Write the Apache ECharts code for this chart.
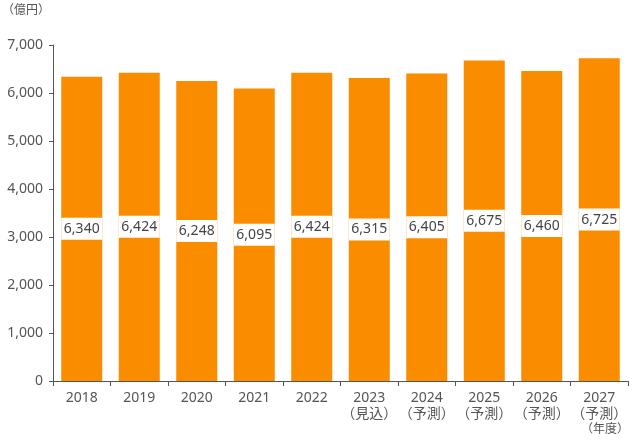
<!DOCTYPE html>
<html><head><meta charset="utf-8">
<script src="https://cdn.jsdelivr.net/npm/echarts@6/dist/echarts.min.js"></script>
<style>html,body{margin:0;padding:0;background:#fff}#c{width:633px;height:443px}</style>
</head><body><div id="c"></div>
<script>
const years = ['2018','2019','2020','2021','2022','2023','2024','2025','2026','2027'];
const notes = ['','','','','','（見込）','（予測）','（予測）','（予測）','（予測）'];
const values = [6340,6424,6248,6095,6424,6315,6405,6675,6460,6725];
const yTicks = [0,1000,2000,3000,4000,5000,6000,7000];
const unitLabel = '（億円）';
const yearLabel = '（年度）';
const FONT = '"Noto Sans", "Noto Sans CJK JP", sans-serif';
const cats = years.map((y,i)=> notes[i] ? y + '\n' + notes[i] : y);
const chart = echarts.init(document.getElementById('c'), null, {renderer:'canvas'});
chart.setOption({
  animation:false,
  textStyle:{fontFamily:FONT},
  grid:{left:53,right:5,top:45,bottom:62,containLabel:false},
  graphic:[
    {type:'text',left:2,top:5,style:{text:unitLabel,fontSize:12,fill:'#555',fontFamily:FONT}},
    {type:'text',right:4,top:424,style:{text:yearLabel,fontSize:12,fill:'#555',fontFamily:FONT}}
  ],
  xAxis:{type:'category',data:cats,
    axisLine:{lineStyle:{color:'#555',width:1}},
    axisTick:{show:true,interval:0,length:5,lineStyle:{color:'#555'}},
    axisLabel:{interval:0,color:'#555',fontSize:14,margin:9,lineHeight:16,fontFamily:FONT}
  },
  yAxis:{type:'value',min:0,max:7000,interval:1000,
    axisLine:{show:true,lineStyle:{color:'#555',width:1}},
    axisTick:{show:true,length:4,lineStyle:{color:'#555'}},
    splitLine:{show:false},
    axisLabel:{color:'#555',fontSize:14,margin:10,fontFamily:FONT,
      formatter:v=>yTicks.includes(v)?v.toLocaleString('en-US'):''}
  },
  series:[{type:'bar',data:values,barWidth:41,
    itemStyle:{color:'#FA8C00'},
    label:{show:true,position:'inside',color:'#444',fontSize:14,lineHeight:14,fontFamily:FONT,
      backgroundColor:'#fff',width:41,align:'center',padding:[4,0,4,0],
      formatter:p=>p.value.toLocaleString('en-US')}
  }]
});
</script></body></html>
